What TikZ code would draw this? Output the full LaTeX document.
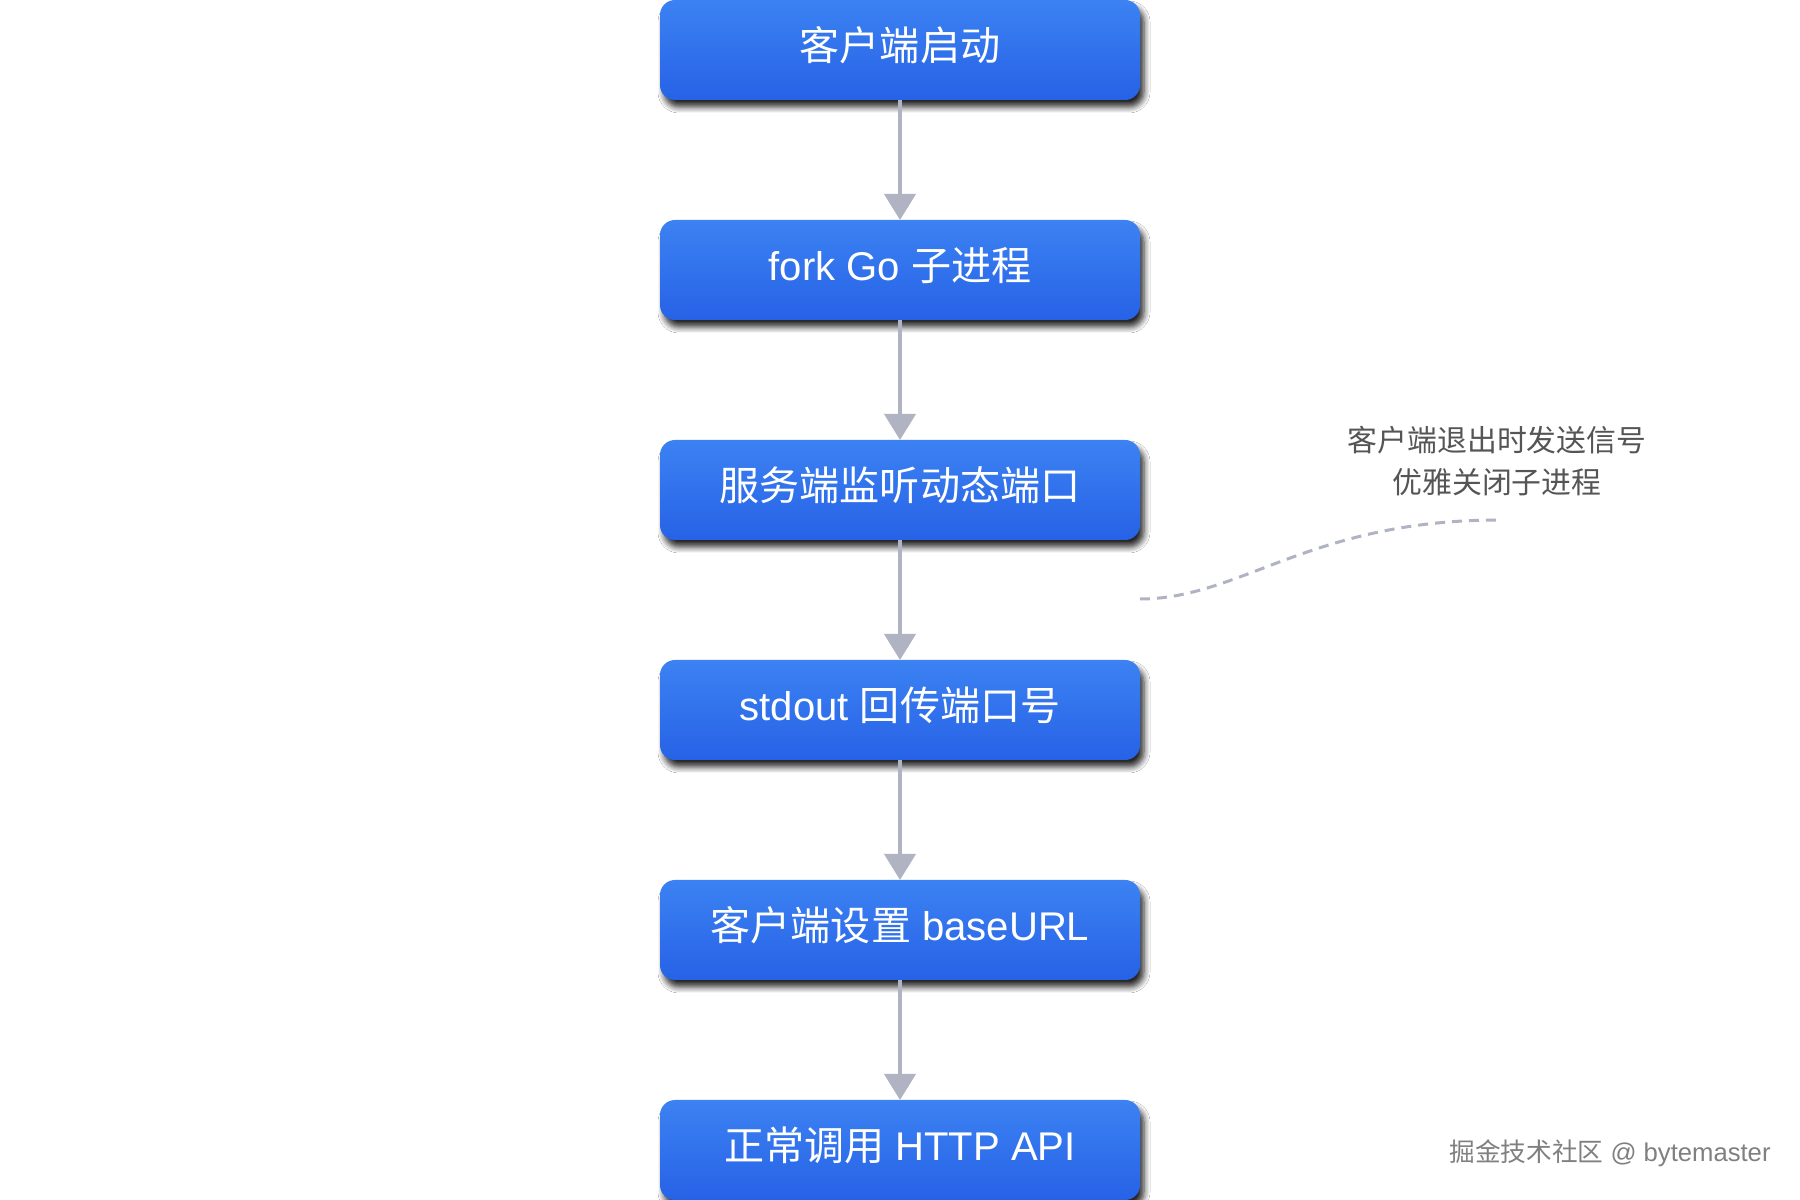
\documentclass[tikz,border=0pt]{standalone}
\usepackage{fontspec}
\setmainfont{Liberation Sans}
\newfontfamily\cjk{Noto Sans CJK SC}
\usepackage{tikz}
\usetikzlibrary{positioning,arrows.meta,shadows.blur}
\definecolor{boxtop}{HTML}{3C82F3}
\definecolor{boxbot}{HTML}{2762E6}
\definecolor{linkgray}{HTML}{B0B4C2}
\definecolor{notegray}{HTML}{555555}
\definecolor{markgray}{HTML}{808080}
\tikzset{
  stepbox/.style={rounded corners=0.15cm, minimum width=4.8cm, minimum height=1cm, inner sep=0pt, outer sep=0pt,
    text height=0.35cm, text depth=0.13cm,
    top color=boxtop, bottom color=boxbot, text=white, font=\fontsize{11.4}{13}\selectfont,
    blur shadow={shadow xshift=0.04cm, shadow yshift=-0.07cm, shadow blur radius=0.06cm, shadow blur steps=6, shadow opacity=85}},
  flow/.style={draw=linkgray, line width=0.04cm, -{Triangle[width=0.31cm,length=0.26cm]}}
}

\begin{document}
\begin{tikzpicture}
\useasboundingbox[fill=white] (0,0) rectangle (18,12);
\node[stepbox] (start) at (9,11.5) {{\cjk 客户端启动}};
\node[stepbox, below=1.2cm of start] (fork) {fork Go {\cjk 子进程}};
\node[stepbox, below=1.2cm of fork] (listen) {{\cjk 服务端监听动态端口}};
\node[stepbox, below=1.2cm of listen] (stdout) {stdout {\cjk 回传端口号}};
\node[stepbox, below=1.2cm of stdout] (baseurl) {{\cjk 客户端设置} baseURL};
\node[stepbox, below=1.2cm of baseurl] (call) {{\cjk 正常调用} HTTP API};
\draw[flow] (start) -- (fork);
\draw[flow] (fork) -- (listen);
\draw[flow] (listen) -- (stdout);
\draw[flow] (stdout) -- (baseurl);
\draw[flow] (baseurl) -- (call);
\node[text=notegray, align=center, font=\cjk\fontsize{8.5}{11.7}\selectfont] (note) at (14.97,7.39) {客户端退出时发送信号\\优雅关闭子进程};
\coordinate (curvea) at (11.4,6.01);
\coordinate (curveb) at (14.99,6.8);
\draw[linkgray, line width=0.03cm, dash pattern=on 0.1cm off 0.07cm] (curvea) .. controls (12.4,6.01) and (13.1,6.8) .. (curveb);
\node[text=markgray, anchor=east, font=\fontsize{7.3}{8}\selectfont] (mark) at (17.83,0.47) {{\cjk 掘金技术社区} @ bytemaster};
\end{tikzpicture}
\end{document}
